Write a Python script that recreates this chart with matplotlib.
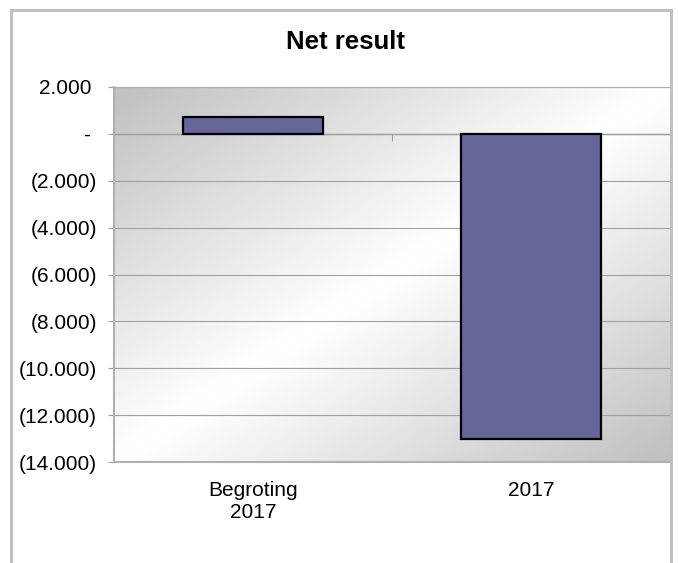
import numpy as np
import matplotlib
matplotlib.use("Agg")
import matplotlib.pyplot as plt
from matplotlib.patches import Rectangle
from matplotlib.ticker import FuncFormatter

plt.rcParams['font.family'] = ['Liberation Sans', 'DejaVu Sans']

# data
categories = ["Begroting\n2017", "2017"]
values = [700, -13000]
y_ticks = list(range(-14000, 2001, 2000))

W, H = 679, 563
fig = plt.figure(figsize=(W / 100, H / 100), dpi=100)

# outer chart border (bottom runs off the picture)
fig.patches.append(Rectangle((11 / W, -0.05), 660 / W, 1.05 - 10 / H,
                             transform=fig.transFigure, fill=False,
                             edgecolor="#c0c0c0", linewidth=2.2, zorder=0))

fig.text(346 / W, 1 - 42 / H, "Net result", ha="center", va="center",
         fontsize=18.5, fontweight="bold")

ax = fig.add_axes([114 / W, (H - 462) / H, (670 - 114) / W, (462 - 87) / H])

# diagonal gradient background: grey at top-left and bottom-right, white in between
n = 300
xx, yy = np.meshgrid(np.linspace(0, 1, n), np.linspace(0, 1, n))
s = (xx + yy) / 2
shade = 1 - np.abs(s - 0.5) * 2 * 0.25
ax.imshow(shade, cmap="gray", vmin=0, vmax=1, extent=[0, 1, 0, 1],
          transform=ax.transAxes, aspect="auto", zorder=0, origin="upper")

x = np.arange(len(categories))
ax.bar(x, values, width=0.505, color="#666699", edgecolor="black",
       linewidth=1.6, zorder=3)

ax.set_xlim(-0.5, len(categories) - 0.5)
ax.set_ylim(-14000, 2000)
ax.set_yticks(y_ticks)
ax.yaxis.grid(True, color="#a0a0a0", linewidth=0.8, zorder=1)
ax.set_axisbelow(True)


def fmt(v, pos=None):
    if v == 0:
        return "- "
    s = f"{abs(v):,.0f}".replace(",", ".")
    return f"({s})" if v < 0 else s + " "


ax.yaxis.set_major_formatter(FuncFormatter(fmt))
ax.tick_params(axis="y", labelsize=15, length=4.3, color="#a0a0a0", pad=8)

# category labels under the plot area, separator tick on the zero line
ax.set_xticks([0.5])
ax.set_xticklabels([""])
ax.tick_params(axis="x", length=5, color="#a0a0a0", direction="out")
for xi, lab in zip(x, categories):
    ax.text(xi, -0.05, lab, transform=ax.get_xaxis_transform(),
            ha="center", va="top", fontsize=15, linespacing=1.2)
ax.axhline(0, color="#a0a0a0", linewidth=1, zorder=2)
ax.spines["bottom"].set_position(("data", 0))
ax.spines["bottom"].set_color("#a0a0a0")
for side in ["left", "top", "right"]:
    ax.spines[side].set_color("#b0b0b0")
ax.spines["left"].set_linewidth(1.5)
ax.spines["right"].set_visible(False)
# bottom edge of the plot area
ax.axhline(-14000, color="#b0b0b0", linewidth=1.5, zorder=2, clip_on=False)

fig.savefig("out.png", dpi=100)
